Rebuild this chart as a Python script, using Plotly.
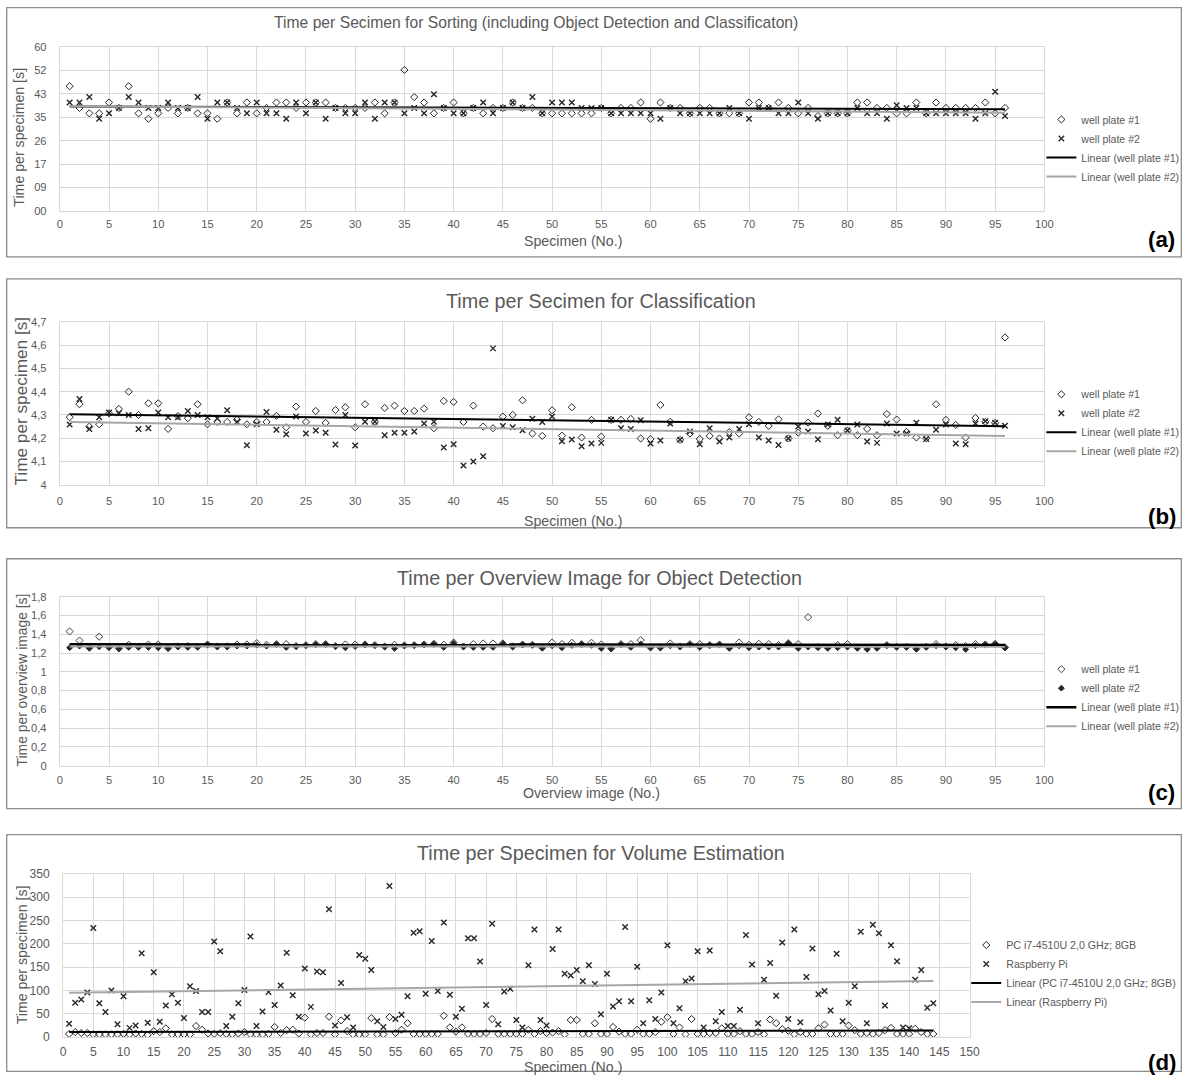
import numpy as np
import plotly.graph_objects as go

W, H = 1192, 1079
# The photographed page comes out slightly scaled/shifted; positions below are given
# in target picture pixels and mapped back to page pixels with this transform.
SC = 0.9875
CX, CY = 3.3, 6.0
FS = 1 / SC

# ---------------- data ----------------
specimen_96 = list(range(1, 97))
specimen_144 = list(range(1, 145))

# (a) sorting time per specimen [s]
a_wp1 = [46, 38, 36, 36, 40, 38, 46, 36, 34, 36, 38, 36, 38, 36, 36, 34, 40, 36, 40, 36,
         38, 40, 40, 38, 40, 40, 40, 38, 38, 38, 38, 40, 36, 40, 52, 42, 40, 36, 38, 40,
         36, 38, 36, 38, 38, 40, 38, 38, 36, 36, 36, 36, 36, 36, 38, 36, 38, 38, 40, 34,
         40, 38, 38, 36, 38, 38, 36, 36, 36, 40, 40, 38, 40, 38, 36, 38, 35, 36, 36, 36,
         40, 40, 38, 38, 36, 36, 40, 36, 40, 38, 38, 38, 38, 40, 36, 38]
a_wp2 = [40, 40, 42, 34, 36, 38, 42, 40, 38, 38, 40, 38, 38, 42, 34, 40, 40, 38, 36, 40,
         36, 36, 34, 40, 36, 40, 34, 38, 36, 36, 40, 34, 40, 40, 36, 38, 36, 43, 38, 36,
         36, 38, 40, 36, 38, 40, 38, 42, 36, 40, 40, 40, 38, 38, 38, 36, 36, 36, 36, 36,
         34, 38, 36, 36, 36, 36, 36, 38, 36, 34, 38, 38, 36, 36, 40, 36, 34, 36, 36, 36,
         38, 36, 36, 34, 39, 38, 38, 36, 36, 36, 36, 36, 34, 36, 44, 35]
a_tickvals = [0, 8.64, 17.28, 25.92, 34.56, 43.2, 51.84, 60.48]
a_ticktext = ["00", "09", "17", "26", "35", "43", "52", "60"]

# (b) classification time per specimen [s]
b_wp1 = [4.290, 4.346, 4.250, 4.260, 4.307, 4.326, 4.400, 4.300, 4.350, 4.350,
         4.240, 4.295, 4.286, 4.346, 4.260, 4.270, 4.270, 4.280, 4.260, 4.270,
         4.270, 4.296, 4.247, 4.336, 4.270, 4.317, 4.266, 4.321, 4.333, 4.247,
         4.346, 4.270, 4.330, 4.340, 4.317, 4.317, 4.327, 4.243, 4.360, 4.356,
         4.270, 4.340, 4.250, 4.243, 4.293, 4.300, 4.363, 4.220, 4.210, 4.320,
         4.211, 4.333, 4.203, 4.279, 4.207, 4.279, 4.279, 4.283, 4.199, 4.197,
         4.343, 4.271, 4.193, 4.220, 4.197, 4.210, 4.199, 4.226, 4.220, 4.290,
         4.270, 4.253, 4.281, 4.199, 4.224, 4.267, 4.306, 4.253, 4.213, 4.233,
         4.213, 4.240, 4.213, 4.304, 4.280, 4.227, 4.203, 4.200, 4.346, 4.279,
         4.257, 4.203, 4.287, 4.270, 4.266, 4.633]
b_wp2 = [4.259, 4.369, 4.240, 4.290, 4.310, 4.307, 4.300, 4.240, 4.243, 4.310,
         4.290, 4.290, 4.317, 4.300, 4.290, 4.285, 4.320, 4.270, 4.170, 4.260,
         4.313, 4.236, 4.217, 4.293, 4.220, 4.233, 4.223, 4.173, 4.300, 4.169,
         4.271, 4.271, 4.213, 4.223, 4.223, 4.229, 4.263, 4.271, 4.160, 4.174,
         4.083, 4.100, 4.123, 4.586, 4.253, 4.247, 4.234, 4.284, 4.270, 4.293,
         4.187, 4.194, 4.166, 4.177, 4.180, 4.279, 4.243, 4.240, 4.277, 4.177,
         4.190, 4.263, 4.193, 4.229, 4.174, 4.243, 4.186, 4.203, 4.240, 4.260,
         4.203, 4.190, 4.171, 4.199, 4.250, 4.229, 4.196, 4.259, 4.279, 4.233,
         4.259, 4.186, 4.180, 4.263, 4.220, 4.220, 4.266, 4.197, 4.236, 4.259,
         4.177, 4.174, 4.263, 4.273, 4.266, 4.254]
b_tickvals = [4.0, 4.1, 4.2, 4.3, 4.4, 4.5, 4.6, 4.7]
b_ticktext = ["4", "4,1", "4,2", "4,3", "4,4", "4,5", "4,6", "4,7"]

# (c) object detection time per overview image [s]
c_wp1 = [1.430, 1.333, 1.256, 1.375, 1.263, 1.250, 1.288, 1.267, 1.290, 1.290,
         1.253, 1.270, 1.274, 1.267, 1.291, 1.270, 1.270, 1.291, 1.291, 1.305,
         1.288, 1.295, 1.295, 1.274, 1.284, 1.295, 1.295, 1.274, 1.291, 1.291,
         1.291, 1.284, 1.270, 1.288, 1.281, 1.284, 1.291, 1.298, 1.288, 1.312,
         1.270, 1.295, 1.302, 1.302, 1.302, 1.270, 1.291, 1.288, 1.256, 1.312,
         1.295, 1.309, 1.295, 1.309, 1.291, 1.249, 1.295, 1.295, 1.337, 1.260,
         1.260, 1.302, 1.270, 1.295, 1.295, 1.284, 1.291, 1.256, 1.312, 1.288,
         1.298, 1.295, 1.284, 1.305, 1.295, 1.582, 1.263, 1.256, 1.284, 1.295,
         1.256, 1.256, 1.256, 1.284, 1.267, 1.267, 1.246, 1.267, 1.295, 1.270,
         1.284, 1.274, 1.295, 1.291, 1.298, 1.260]
c_wp2 = [1.256, 1.274, 1.253, 1.267, 1.260, 1.246, 1.260, 1.263, 1.260, 1.256,
         1.250, 1.267, 1.260, 1.263, 1.288, 1.267, 1.267, 1.274, 1.274, 1.284,
         1.274, 1.291, 1.260, 1.270, 1.281, 1.291, 1.291, 1.270, 1.256, 1.270,
         1.288, 1.281, 1.267, 1.249, 1.277, 1.281, 1.288, 1.295, 1.260, 1.305,
         1.267, 1.260, 1.260, 1.260, 1.298, 1.267, 1.288, 1.284, 1.253, 1.277,
         1.256, 1.281, 1.291, 1.281, 1.249, 1.246, 1.291, 1.260, 1.295, 1.256,
         1.256, 1.277, 1.267, 1.291, 1.260, 1.281, 1.288, 1.253, 1.277, 1.256,
         1.263, 1.263, 1.263, 1.302, 1.249, 1.263, 1.260, 1.253, 1.256, 1.263,
         1.253, 1.239, 1.253, 1.281, 1.263, 1.263, 1.242, 1.263, 1.277, 1.267,
         1.256, 1.239, 1.277, 1.288, 1.295, 1.256]
c_tickvals = [0, 0.2, 0.4, 0.6, 0.8, 1.0, 1.2, 1.4, 1.6, 1.8]
c_ticktext = ["0", "0,2", "0,4", "0,6", "0,8", "1", "1,2", "1,4", "1,6", "1,8"]

# (d) volume estimation time per specimen [s]
d_pc = [7, 11, 9, 9, 6, 6, 6, 6, 6, 7, 6, 8, 7, 5, 13, 11, 19, 6, 6, 6,
        6, 24, 16, 8, 7, 9, 7, 6, 8, 11, 6, 6, 6, 7, 22, 9, 15, 16, 8, 42,
        6, 9, 9, 44, 6, 36, 13, 6, 6, 6, 41, 6, 6, 43, 9, 16, 30, 7, 7, 7,
        7, 7, 46, 21, 12, 21, 7, 7, 7, 9, 39, 7, 7, 7, 7, 7, 16, 7, 13, 9,
        10, 13, 6, 37, 37, 7, 7, 30, 7, 7, 22, 12, 7, 7, 16, 7, 7, 11, 33, 43,
        7, 21, 6, 39, 7, 7, 9, 9, 19, 7, 7, 13, 7, 7, 11, 6, 38, 30, 17, 14,
        6, 11, 7, 7, 19, 27, 7, 7, 7, 25, 15, 7, 9, 7, 9, 15, 20, 7, 7, 7,
        18, 11, 7, 7]
d_pi = [29, 74, 81, 96, 234, 73, 54, 100, 28, 88, 20, 25, 180, 31, 139, 33, 68, 92, 74, 41,
        109, 99, 54, 54, 205, 184, 24, 44, 73, 101, 216, 24, 55, 97, 69, 111, 181, 90, 44, 147,
        65, 141, 139, 274, 25, 116, 43, 21, 176, 168, 144, 34, 22, 324, 39, 48, 88, 224, 227, 93,
        206, 99, 246, 91, 44, 61, 212, 212, 162, 69, 243, 28, 98, 104, 37, 21, 154, 231, 37, 25,
        189, 231, 136, 132, 144, 120, 154, 114, 49, 136, 66, 77, 236, 77, 151, 30, 79, 39, 96, 197,
        30, 62, 120, 126, 184, 21, 186, 34, 54, 24, 24, 59, 219, 156, 30, 123, 159, 89, 203, 39,
        231, 32, 129, 190, 92, 99, 57, 179, 34, 74, 109, 226, 30, 241, 223, 68, 197, 163, 21, 19,
        123, 144, 63, 73]
d_tickvals = [0, 50, 100, 150, 200, 250, 300, 350]

names_ab = ["well plate #1", "well plate #2", "Linear (well plate #1)", "Linear (well plate #2)"]
names_d = ["PC i7-4510U 2,0 GHz; 8GB", "Raspberry Pi",
           "Linear (PC i7-4510U 2,0 GHz; 8GB)", "Linear (Raspberry Pi)"]

# ---------------- styling helpers ----------------
FONT = "Liberation Sans, Arial, sans-serif"
TXT = "#595959"
GRID = "#d9d9d9"
MK = "#262626"


def fx(r):  # target picture pixel -> paper x
    p = (r - CX) / SC
    return min(max(p, 0.7), W - 0.7) / W


def fy(r):  # target picture pixel -> paper y
    p = (r - CY) / SC
    return 1 - min(max(p, 0.7), H - 0.7) / H


def trend(x, y):
    k, b = np.polyfit(np.array(x, float), np.array(y, float), 1)
    xs = [x[0], x[-1]]
    return xs, [k * xs[0] + b, k * xs[1] + b]


fig = go.Figure()

mk_open = dict(symbol="diamond-open", size=5.5, color=MK, line=dict(width=1, color=MK))
mk_x = dict(symbol="x-thin-open", size=5.5, color=MK, line=dict(width=1.4, color=MK))

panels = [
    dict(sfx="", x=specimen_96, s1=a_wp1, s2=a_wp2, names=names_ab,
         xpx=(60, 1043), ypx=(46, 210), xr=[0, 100], yr=[0, 60.48],
         tv=a_tickvals, tt=a_ticktext, leg="legend", legx=1040, legy=147,
         m1=mk_open, m2=mk_x, lw=(2, 2), tfs=11, lfs=10.4, xstand=3),
    dict(sfx="2", x=specimen_96, s1=b_wp1, s2=b_wp2, names=names_ab,
         xpx=(60, 1043), ypx=(321, 484), xr=[0, 100], yr=[4, 4.7],
         tv=b_tickvals, tt=b_ticktext, leg="legend2", legx=1040, legy=422,
         m1=mk_open, m2=mk_x, lw=(2, 2), tfs=11, lfs=10.4, xstand=6),
    dict(sfx="3", x=specimen_96, s1=c_wp1, s2=c_wp2, names=names_ab,
         xpx=(60, 1043), ypx=(596, 765), xr=[0, 100], yr=[0, 1.8],
         tv=c_tickvals, tt=c_ticktext, leg="legend3", legx=1040, legy=697,
         m1=dict(symbol="diamond-open", size=5.5, color="#404040", line=dict(width=1, color="#404040")),
         m2=dict(symbol="diamond", size=4.5, color=MK, line=dict(width=1, color=MK)),
         lw=(2.5, 2), tfs=11, lfs=10.4, xstand=4),
    dict(sfx="4", x=specimen_144, s1=d_pc, s2=d_pi, names=names_d,
         xpx=(63.3, 968.3), ypx=(873.3, 1036.7), xr=[0, 150], yr=[0, 350],
         tv=d_tickvals, tt=[str(v) for v in d_tickvals], leg="legend4", legx=965, legy=973,
         m1=mk_open, m2=mk_x, lw=(2, 2), tfs=12, lfs=10.5, xstand=3),
]

layout = dict(
    width=W, height=H, margin=dict(l=0, r=0, t=0, b=0),
    paper_bgcolor="white", plot_bgcolor="white",
    font=dict(family=FONT, color=TXT),
    showlegend=True,
)

for p in panels:
    xa = "x" + p["sfx"]
    ya = "y" + p["sfx"]
    fig.add_trace(go.Scatter(x=p["x"], y=p["s1"], mode="markers", name=p["names"][0],
                             marker=p["m1"], xaxis=xa, yaxis=ya, legend=p["leg"]))
    fig.add_trace(go.Scatter(x=p["x"], y=p["s2"], mode="markers", name=p["names"][1],
                             marker=p["m2"], xaxis=xa, yaxis=ya, legend=p["leg"]))
    tx1, ty1 = trend(p["x"], p["s1"])
    tx2, ty2 = trend(p["x"], p["s2"])
    fig.add_trace(go.Scatter(x=tx1, y=ty1, mode="lines", name=p["names"][2],
                             line=dict(color="#000000", width=p["lw"][0]),
                             xaxis=xa, yaxis=ya, legend=p["leg"]))
    fig.add_trace(go.Scatter(x=tx2, y=ty2, mode="lines", name=p["names"][3],
                             line=dict(color="#a6a6a6", width=p["lw"][1]),
                             xaxis=xa, yaxis=ya, legend=p["leg"]))

    layout["xaxis" + p["sfx"]] = dict(
        domain=[fx(p["xpx"][0]), fx(p["xpx"][1])], range=p["xr"], tick0=0, dtick=5,
        anchor=ya, showgrid=True, gridcolor=GRID, gridwidth=1, zeroline=False,
        showline=True, linecolor=GRID, linewidth=1, mirror=True, ticks="",
        tickfont=dict(size=p["tfs"] * FS, color=TXT, family=FONT),
        ticklabelstandoff=p["xstand"], fixedrange=True)
    layout["yaxis" + p["sfx"]] = dict(
        domain=[fy(p["ypx"][1]), fy(p["ypx"][0])], range=p["yr"],
        tickmode="array", tickvals=p["tv"], ticktext=p["tt"],
        anchor=xa, showgrid=True, gridcolor=GRID, gridwidth=1, zeroline=False,
        showline=True, linecolor=GRID, linewidth=1, mirror=True, ticks="",
        tickfont=dict(size=p["tfs"] * FS, color=TXT, family=FONT), ticklabelstandoff=10,
        fixedrange=True)
    layout[p["leg"]] = dict(
        x=fx(p["legx"]), y=fy(p["legy"]), xanchor="left", yanchor="middle",
        font=dict(size=p["lfs"] * FS, color=TXT, family=FONT), bgcolor="rgba(0,0,0,0)",
        tracegroupgap=0, itemwidth=30, borderwidth=0)

# panel frames (picture pixels: left, top, right, bottom)
frames = [(7, 1, 1188, 256), (7, 278, 1188, 527), (7, 558, 1188, 808), (7, 834, 1188, 1100)]
layout["shapes"] = [dict(type="rect", xref="paper", yref="paper", x0=fx(a), x1=fx(c),
                         y0=fy(d), y1=fy(b), line=dict(color="#8c8c8c", width=1.3),
                         fillcolor="rgba(0,0,0,0)", layer="below")
                    for (a, b, c, d) in frames]

ann = []


def add_text(text, x, y, size, color=TXT, angle=0, bold=False):
    ann.append(dict(text=("<b>%s</b>" % text) if bold else text, x=fx(x), y=fy(y),
                    xref="paper", yref="paper", xanchor="center", yanchor="middle",
                    showarrow=False, textangle=angle,
                    font=dict(size=size * FS, color=color, family=FONT)))


add_text("Time per Secimen for Sorting (including Object Detection and Classificaton)", 535, 22, 15.5)
add_text("Time per Secimen for Classification", 600, 300, 19.5)
add_text("Time per Overview Image for Object Detection", 599, 577, 19.5)
add_text("Time per Specimen for Volume Estimation", 600, 852, 19.5)

add_text("Time per specimen [s]", 19, 136, 14, angle=-90)
add_text("Time per specimen [s]", 21, 400, 17, angle=-90)
add_text("Time per overview image [s]", 22, 679, 13.7, angle=-90)
add_text("Time per specimen [s]", 22, 954, 14, angle=-90)

add_text("Specimen (No.)", 572, 240, 14)
add_text("Specimen (No.)", 572, 520, 14)
add_text("Overview image (No.)", 591, 792, 14)
add_text("Specimen (No.)", 572, 1067, 14)

for lab, yy in [("(a)", 239), ("(b)", 516), ("(c)", 792), ("(d)", 1062)]:
    add_text(lab, 1160, yy, 22, color="#000000", bold=True)

layout["annotations"] = ann
fig.update_layout(**layout)

fig.write_html("out.html", config={"displayModeBar": False},
               post_script="document.body.style.margin='0px';")
